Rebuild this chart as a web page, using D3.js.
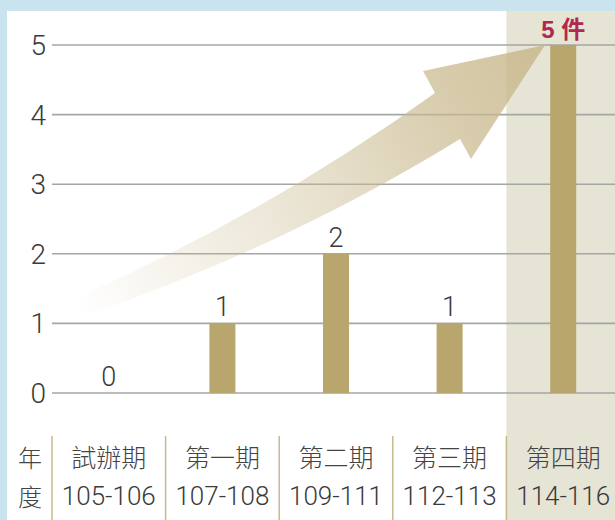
<!DOCTYPE html>
<html><head><meta charset="utf-8">
<script src="https://cdn.jsdelivr.net/npm/d3@7"></script>
<style>html,body{margin:0;padding:0;background:#c9e3ef;}svg{display:block;}</style>
</head><body><svg id="c" width="615" height="520"></svg>
<script>
const periods = ["試辦期","第一期","第二期","第三期","第四期"];
const years = ["105-106","107-108","109-111","112-113","114-116"];
const counts = [0,1,2,1,5];
const yTicks = [0,1,2,3,4,5];
const rowHead = ["年","度"];
const lastLabel = "5 件";

const svg = d3.select("#c");
const W = 615, H = 520;
const x = d3.scaleBand().domain(periods).range([52, 620]).padding(0);
const y = d3.scaleLinear().domain([0,5]).range([393, 45]);
const numFont = "Roboto, 'Liberation Sans', Arial, sans-serif";
const cjkFont = "'Noto Sans CJK TC', 'Noto Sans CJK SC', sans-serif";

// white panel
svg.append("rect").attr("x",7).attr("y",11).attr("width",W-7).attr("height",H-11).attr("fill","#ffffff");
// highlight column
const last = periods[periods.length-1];
svg.append("rect").attr("x",x(last)).attr("y",11).attr("width",W-x(last)).attr("height",H-11).attr("fill","#e6e4d4");

// gridlines
svg.append("g").selectAll("line").data(yTicks).join("line")
  .attr("x1",52).attr("x2",W).attr("y1",d=>y(d)).attr("y2",d=>y(d))
  .attr("stroke","#a6a6a6").attr("stroke-width",1.6);

// arrow
const defs = svg.append("defs");
const g = defs.append("linearGradient").attr("id","ag").attr("gradientUnits","userSpaceOnUse")
  .attr("x1",75).attr("y1",308).attr("x2",545).attr("y2",50);
[[0,0],[0.12,0.1],[0.5,0.42],[0.8,0.72],[1,0.85]].forEach(([o,a])=>{
  g.append("stop").attr("offset",o).attr("stop-color","#c8b88c").attr("stop-opacity",a);
});
const ap = d3.path();
ap.moveTo(72,300);
ap.quadraticCurveTo(270,212,435,93);
ap.lineTo(423,71);
ap.lineTo(545,45);
ap.lineTo(471,159);
ap.lineTo(460,139);
ap.quadraticCurveTo(290,244,85,316);
ap.quadraticCurveTo(72,310,72,300);
ap.closePath();
svg.append("path").attr("d",ap.toString()).attr("fill","url(#ag)");

// bars
const bw = 26;
svg.append("g").selectAll("rect").data(periods).join("rect")
  .attr("x",d=>x(d)+x.bandwidth()/2-bw/2)
  .attr("y",(d,i)=>y(counts[i]))
  .attr("width",bw)
  .attr("height",(d,i)=>y(0)-y(counts[i]))
  .attr("fill","#b8a66c");

// value labels
svg.append("g").selectAll("text").data(periods).join("text")
  .attr("x",d=>x(d)+x.bandwidth()/2)
  .attr("y",(d,i)=>y(counts[i])-7)
  .attr("text-anchor","middle")
  .attr("font-family",(d,i)=> i===periods.length-1 ? "'Liberation Sans', Arial, "+cjkFont : numFont)
  .attr("font-weight",(d,i)=> i===periods.length-1 ? 700 : 300)
  .attr("font-size",(d,i)=> i===periods.length-1 ? 24 : 27)
  .attr("fill",(d,i)=> i===periods.length-1 ? "#b0284f" : "#3a3a3a")
  .text((d,i)=> i===periods.length-1 ? lastLabel : counts[i]);

// y tick labels
svg.append("g").selectAll("text").data(yTicks).join("text")
  .attr("x",46).attr("y",d=>y(d)).attr("dy","0.36em")
  .attr("text-anchor","end")
  .attr("font-family",numFont).attr("font-weight",300).attr("font-size",28)
  .attr("fill","#3a3a3a").text(d=>d);

// separators
const seps = periods.map(d=>x(d));
svg.append("g").selectAll("line").data(seps).join("line")
  .attr("x1",d=>d).attr("x2",d=>d).attr("y1",436).attr("y2",H)
  .attr("stroke","#c8b98c").attr("stroke-width",1.5);

// bottom labels
svg.append("g").selectAll("text").data(rowHead).join("text")
  .attr("x",30).attr("y",(d,i)=> i===0?458:497).attr("dy","0.36em")
  .attr("text-anchor","middle").attr("font-family",cjkFont).attr("font-weight",300)
  .attr("font-size",24).attr("fill","#444").text(d=>d);
svg.append("g").selectAll("text").data(periods).join("text")
  .attr("x",d=>x(d)+x.bandwidth()/2).attr("y",458).attr("dy","0.36em")
  .attr("text-anchor","middle").attr("font-family",cjkFont).attr("font-weight",300)
  .attr("font-size",25).attr("fill","#444").text(d=>d);
svg.append("g").selectAll("text").data(years).join("text")
  .attr("x",(d,i)=>x(periods[i])+x.bandwidth()/2).attr("y",496).attr("dy","0.36em")
  .attr("text-anchor","middle").attr("font-family",numFont).attr("font-weight",300)
  .attr("font-size",26).attr("fill","#3a3a3a").text(d=>d);
</script></body></html>
